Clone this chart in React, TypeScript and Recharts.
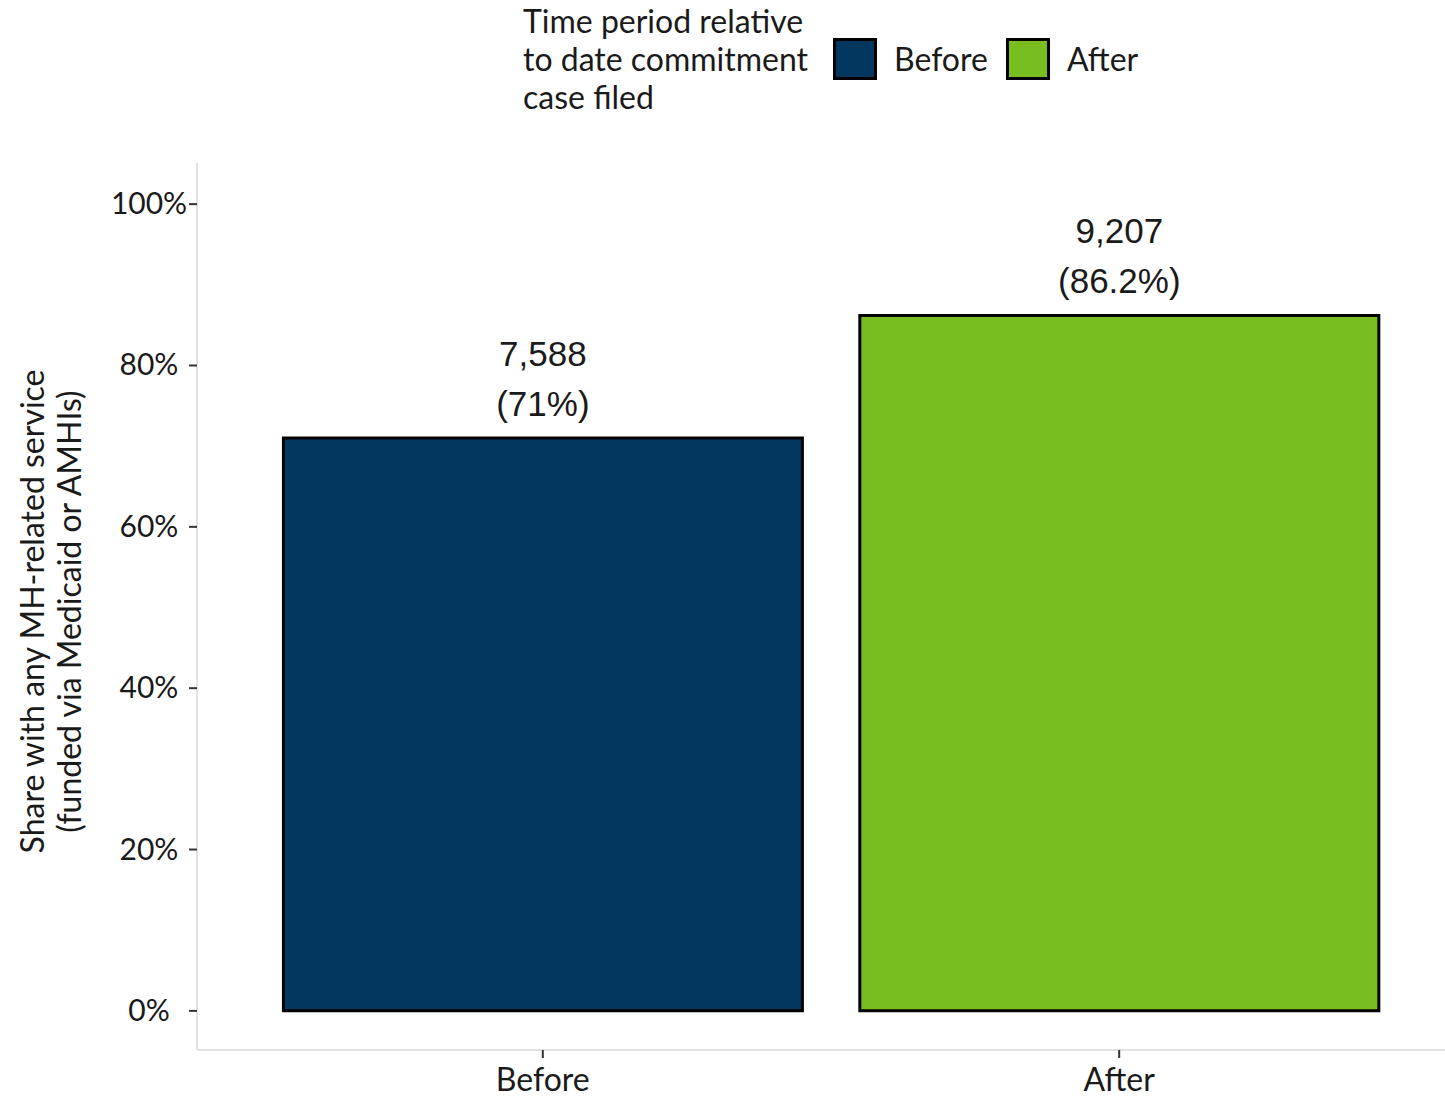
import { BarChart, Bar, XAxis, YAxis, Cell, LabelList } from 'recharts';

const periods = ['Before', 'After'];
const shares = [71, 86.2];
const counts = [7588, 9207];
const periodColors = ['#03375f', '#78be20'];
const yTicks = [0, 20, 40, 60, 80, 100];

const chartData = periods.map((period, i) => ({
  period,
  share: shares[i],
  count: counts[i],
}));

const sansFont = 'Lato, "Open Sans", sans-serif';
const labelFont = '"Liberation Sans", Arial, sans-serif';

const YTick = ({ x, y, payload }: any) => (
  <text x={x - 38} y={y} dy={10} textAnchor="middle" fontFamily={sansFont} fontSize={30} fill="#1a1a1a">
    {`${payload.value}%`}
  </text>
);

const XTick = ({ x, y, payload }: any) => (
  <text x={x} y={y} dy={31} textAnchor="middle" fontFamily={sansFont} fontSize={32} fill="#1a1a1a">
    {payload.value}
  </text>
);

const YTitle = ({ viewBox }: any) => {
  const cy = viewBox.y + viewBox.height / 2 + 5;
  return (
    <g fontFamily={sansFont} fontSize={32} fill="#1a1a1a" textAnchor="middle">
      <text transform={`translate(44, ${cy}) rotate(-90)`}>Share with any MH-related service</text>
      <text transform={`translate(81, ${cy}) rotate(-90)`}>(funded via Medicaid or AMHIs)</text>
    </g>
  );
};

const BarLabel = ({ x, y, width, index }: any) => {
  const cx = x + width / 2;
  const row = chartData[index];
  return (
    <g fontFamily={labelFont} fontSize={35} fill="#1a1a1a" textAnchor="middle">
      <text x={cx} y={y - 72}>{row.count.toLocaleString('en-US')}</text>
      <text x={cx} y={y - 22}>{`(${row.share}%)`}</text>
    </g>
  );
};

export default function App() {
  return (
    <div
      style={{
        position: 'absolute',
        left: 0,
        top: 0,
        width: 1445,
        height: 1098,
        overflow: 'hidden',
        background: '#fff',
      }}
    >
      <div
        style={{
          position: 'absolute',
          left: 523,
          top: 2,
          fontFamily: sansFont,
          fontSize: 32,
          lineHeight: '38px',
          color: '#1a1a1a',
          display: 'flex',
          alignItems: 'center',
        }}
      >
        <div style={{ width: 310 }}>
          Time period relative
          <br />
          to date commitment
          <br />
          case filed
        </div>
        {periods.map((p, i) => (
          <div key={p} style={{ display: 'flex', alignItems: 'center' }}>
            <div
              style={{
                width: 38,
                height: 36,
                background: periodColors[i],
                border: '3px solid #000',
                marginRight: 17,
              }}
            />
            <span style={{ marginRight: 18 }}>{p}</span>
          </div>
        ))}
      </div>

      <BarChart
        width={1475}
        height={1098}
        data={chartData}
        margin={{ top: 163, right: 10, left: 0, bottom: 0 }}
        barCategoryGap="5%"
      >
        <XAxis
          dataKey="period"
          height={48}
          padding={{ left: 57.6, right: 57.6 }}
          axisLine={{ stroke: '#d9d9d9', strokeWidth: 1.5 }}
          tickLine={{ stroke: '#333', strokeWidth: 2 }}
          tickSize={8}
          tick={<XTick />}
        />
        <XAxis
          xAxisId="top"
          orientation="top"
          dataKey="period"
          height={0}
          tick={false}
          tickLine={false}
          axisLine={{ stroke: '#d9d9d9', strokeWidth: 1.5 }}
        />
        <YAxis
          width={197}
          domain={[-4.85, 105.1]}
          allowDataOverflow
          ticks={yTicks}
          axisLine={{ stroke: '#d9d9d9', strokeWidth: 1.5 }}
          tickLine={{ stroke: '#333', strokeWidth: 2 }}
          tickSize={8}
          tickMargin={2}
          tick={<YTick />}
          label={<YTitle />}
        />
        <Bar dataKey="share" stroke="#000" strokeWidth={3} isAnimationActive={false}>
          {chartData.map((d, i) => (
            <Cell key={d.period} fill={periodColors[i]} />
          ))}
          <LabelList dataKey="share" content={<BarLabel />} />
        </Bar>
      </BarChart>
    </div>
  );
}
